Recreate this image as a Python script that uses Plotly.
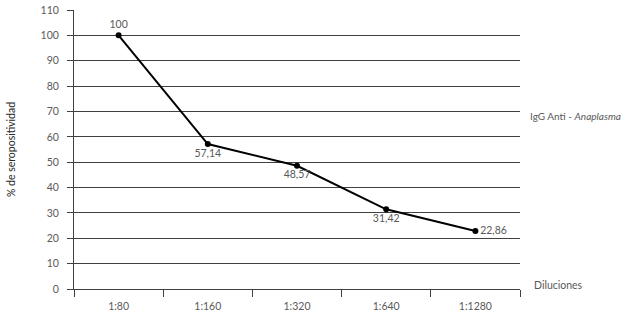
import plotly.graph_objects as go

diluciones = ["1:80", "1:160", "1:320", "1:640", "1:1280"]
seropositividad = [100, 57.14, 48.57, 31.42, 22.86]
etiquetas = ["100", "57,14", "48,57", "31,42", "22,86"]
posiciones = ["top center", "bottom center", "bottom center", "bottom center", "middle right"]
y_ticks = list(range(0, 111, 10))

FONT = "Lato"
GRAY = "#595959"

fig = go.Figure()
fig.add_trace(go.Scatter(
    x=diluciones, y=seropositividad,
    mode="lines+markers+text",
    text=etiquetas, textposition=posiciones,
    textfont=dict(family=FONT, size=10.5, color=GRAY),
    line=dict(color="black", width=2),
    marker=dict(color="black", size=6),
    cliponaxis=False,
    showlegend=False,
))

fig.update_layout(
    width=627, height=318,
    margin=dict(l=74, r=107, t=10, b=29, autoexpand=False),
    paper_bgcolor="white", plot_bgcolor="white",
    font=dict(family=FONT, size=10.5, color=GRAY),
    xaxis=dict(
        type="category", range=[-0.5, 4.5], automargin=False,
        showline=True, linecolor="#404040", linewidth=1,
        ticks="outside", tickson="boundaries", ticklen=7, tickcolor="#404040",
        ticklabelstandoff=7,
        showgrid=False, zeroline=False,
        tickfont=dict(family=FONT, size=10.5, color=GRAY),
    ),
    yaxis=dict(
        range=[0, 110], tickvals=y_ticks, automargin=False,
        showline=True, linecolor="#404040", linewidth=1,
        ticks="outside", ticklen=6, tickcolor="#404040",
        ticklabelstandoff=6,
        showgrid=True, gridcolor="#404040", gridwidth=1,
        zeroline=False,
        tickfont=dict(family=FONT, size=10.5, color=GRAY),
        title=dict(text="% de seropositividad", font=dict(family=FONT, size=10.5, color="#262626"), standoff=22),
    ),
    annotations=[
        dict(text="IgG Anti - <i>Anaplasma</i>", xref="paper", yref="paper",
             x=(622 - 74) / 445, y=1 - (116 - 10) / 279, xanchor="right", yanchor="middle",
             showarrow=False,
             font=dict(family=FONT, size=10, color=GRAY)),
        dict(text="Diluciones", xref="paper", yref="paper",
             x=1.0, y=0, xanchor="left", yanchor="middle",
             xshift=12, yshift=4, showarrow=False,
             font=dict(family=FONT, size=10.5, color=GRAY)),
    ],
)

fig.write_html("out.html", config={"displayModeBar": False},
               post_script="document.body.style.margin='0';")
